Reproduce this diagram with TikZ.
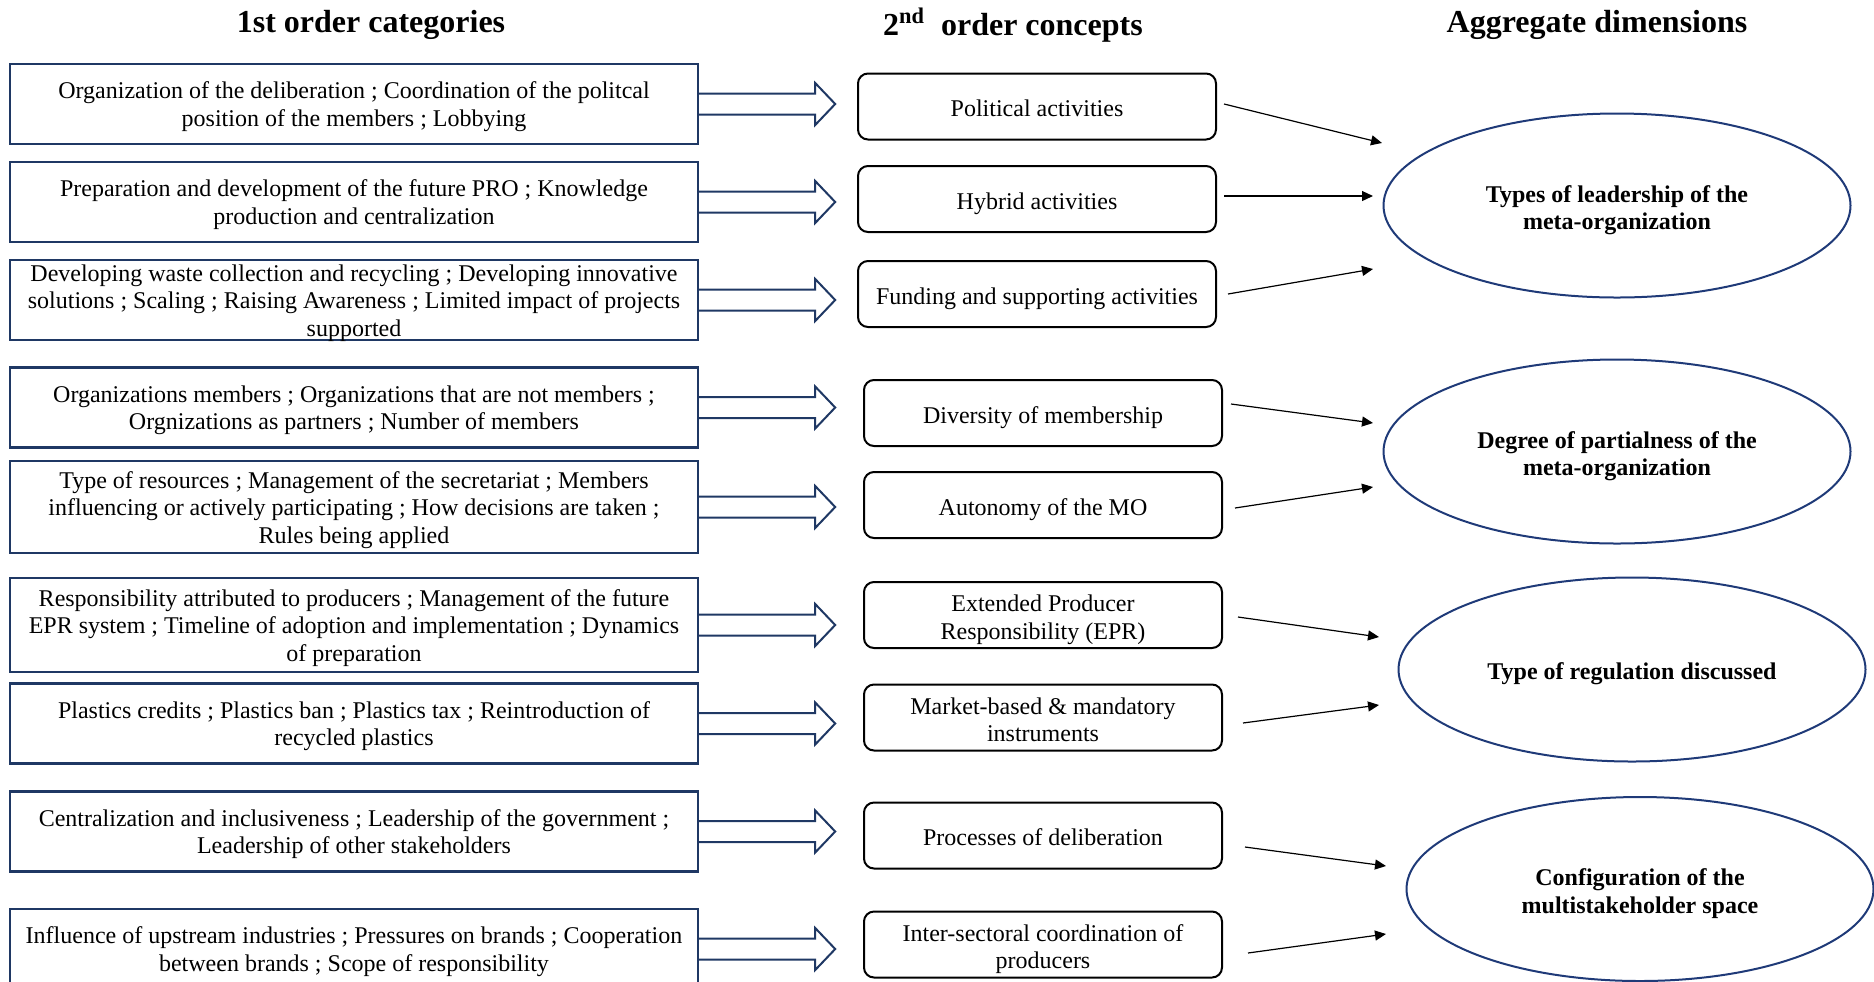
\documentclass[tikz,border=0pt]{standalone}
\usepackage{fontspec}
\setmainfont{Liberation Serif}
\usepackage{tikz}
\usetikzlibrary{arrows.meta, positioning, shapes.geometric}

\definecolor{boxnavy}{RGB}{31,56,100}
\definecolor{ellnavy}{RGB}{31,58,120}

\begin{document}
\begin{tikzpicture}[x=0.5pt, y=-0.5pt,
    title/.style={font=\fontsize{16}{19}\selectfont\bfseries},
    catbox/.style={draw=boxnavy, line width=1.2pt, fill=white, minimum width=344pt, minimum height=40pt, inner sep=0pt, align=center, font=\fontsize{12}{13.75}\selectfont, text height=22.4pt, text depth=0pt},
    conceptbox/.style={draw=black, line width=1pt, rounded corners=5pt, minimum width=179pt, minimum height=33pt, inner sep=0pt, align=center, font=\fontsize{12}{13.75}\selectfont, text height=10pt, text depth=0pt},
    dimell/.style={ellipse, draw=ellnavy, line width=1pt, minimum width=233.5pt, minimum height=92pt, inner sep=0pt, align=center, font=\fontsize{12}{13.75}\selectfont\bfseries, text height=24.2pt, text depth=0pt},
    threelines/.style={text height=36.2pt},
    twolines/.style={text height=24pt},
    oneline/.style={text height=10pt},
    blockarr/.style={draw=boxnavy, line width=1pt, fill=white, line join=miter},
    linkarr/.style={draw=black, line width=0.6pt, -{Triangle[length=5.5pt, width=5pt]}}]
        \useasboundingbox (0,0) rectangle (1874,981);

        \node[title] (T1) at (371,25) {1st order categories};
        \node[title] (T2) at (1013,25) {2\textsuperscript{nd}~ order concepts};
        \node[title] (T3) at (1597,25) {Aggregate dimensions};

        \node[catbox] (c1) at (354,104) {Organization of the deliberation ; Coordination of the politcal\\position of the members ; Lobbying};
        \node[catbox] (c2) at (354,202) {Preparation and development of the future PRO ; Knowledge\\production and centralization};
        \node[catbox, threelines] (c3) at (354,300) {Developing waste collection and recycling ; Developing innovative\\solutions ; Scaling ; Raising Awareness ; Limited impact of projects\\supported};
        \node[catbox] (c4) at (354,407.5) {Organizations members ; Organizations that are not members ;\\Orgnizations as partners ; Number of members};
        \node[catbox, threelines, minimum height=46pt] (c5) at (354,507) {Type of resources ; Management of the secretariat ; Members\\influencing or actively participating ; How decisions are taken ;\\Rules being applied};
        \node[catbox, threelines, minimum height=47pt] (c6) at (354,625) {Responsibility attributed to producers ; Management of the future\\EPR system ; Timeline of adoption and implementation ; Dynamics\\of preparation};
        \node[catbox] (c7) at (354,723.5) {Plastics credits ; Plastics ban ; Plastics tax ; Reintroduction of\\recycled plastics};
        \node[catbox] (c8) at (354,831.5) {Centralization and inclusiveness ; Leadership of the government ;\\Leadership of other stakeholders};
        \node[catbox] (c9) at (354,949) {Influence of upstream industries ; Pressures on brands ; Cooperation\\between brands ; Scope of responsibility};

        \foreach \c in {c1,c2,c3,c4,c5,c6,c7,c8,c9}
            \draw[blockarr] ([shift={(0,-10.5)}]\c.east) -- ++(116,0) -- ++(0,-10.5) -- ++(20,21) -- ++(-20,21) -- ++(0,-10.5) -- ++(-116,0);

        \node[conceptbox] (p1) at (1037,106.5) {Political activities};
        \node[conceptbox] (p2) at (1037,199) {Hybrid activities};
        \node[conceptbox] (p3) at (1037,294) {Funding and supporting activities};
        \node[conceptbox] (p4) at (1043,413) {Diversity of membership};
        \node[conceptbox] (p5) at (1043,505) {Autonomy of the MO};
        \node[conceptbox, twolines] (p6) at (1043,615) {Extended Producer\\Responsibility (EPR)};
        \node[conceptbox, twolines] (p7) at (1043,717.5) {Market-based \& mandatory\\instruments};
        \node[conceptbox] (p8) at (1043,835.5) {Processes of deliberation};
        \node[conceptbox, twolines] (p9) at (1043,944.5) {Inter-sectoral coordination of\\producers};

        \node[dimell] (e1) at (1617,205.5) {Types of leadership of the\\meta-organization};
        \node[dimell] (e2) at (1617,451.5) {Degree of partialness of the\\meta-organization};
        \node[dimell, oneline] (e3) at (1632,669.5) {Type of regulation discussed};
        \node[dimell] (e4) at (1640,889) {Configuration of the\\multistakeholder space};

        \draw[linkarr] ([shift={(7,-2.5)}]p1.east) -- ([shift={(-235,-62.5)}]e1.center);
        \draw[linkarr] ([shift={(7,-3)}]p2.east) -- ([shift={(-244,-9.5)}]e1.center);
        \draw[linkarr] ([shift={(11,0)}]p3.east) -- ([shift={(-244,63.5)}]e1.center);
        \draw[linkarr] ([shift={(8,-9)}]p4.east) -- ([shift={(-244,-28.5)}]e2.center);
        \draw[linkarr] ([shift={(12,3)}]p5.east) -- ([shift={(-244,35.5)}]e2.center);
        \draw[linkarr] ([shift={(15,2)}]p6.east) -- ([shift={(-253,-32.5)}]e3.center);
        \draw[linkarr] ([shift={(20,5.5)}]p7.east) -- ([shift={(-253,35.5)}]e3.center);
        \draw[linkarr] ([shift={(22,11.5)}]p8.east) -- ([shift={(-254,-23)}]e4.center);
        \draw[linkarr] ([shift={(25,8.5)}]p9.east) -- ([shift={(-254,45)}]e4.center);
    \end{tikzpicture}
\end{document}
